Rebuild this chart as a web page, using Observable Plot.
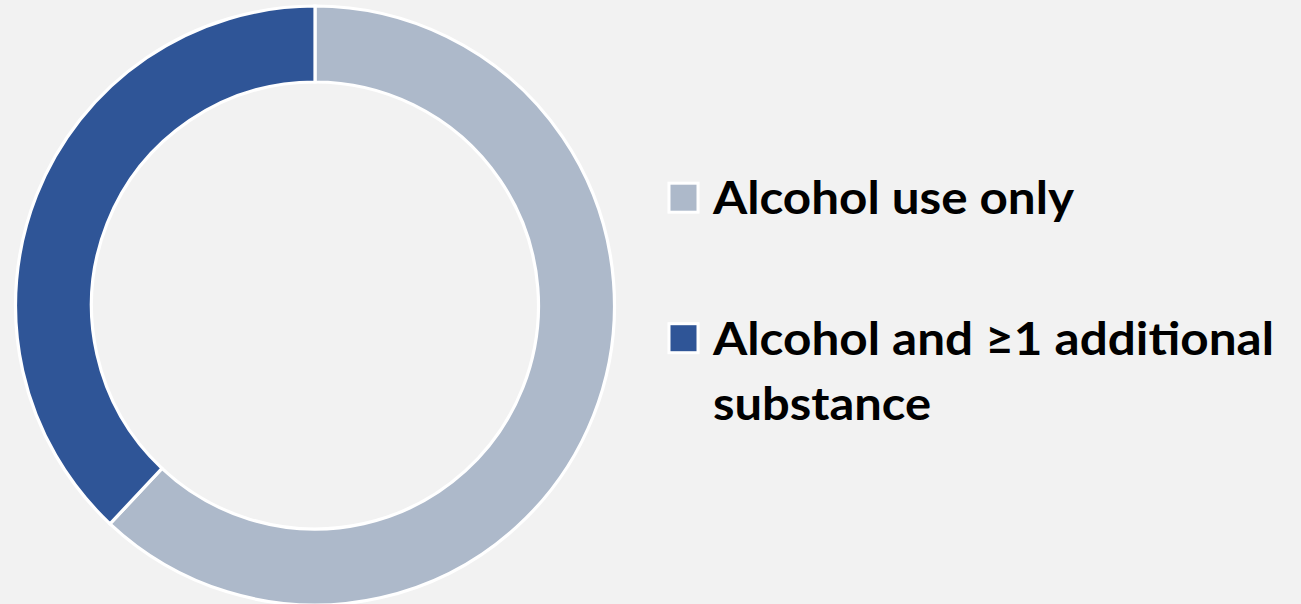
<!DOCTYPE html>
<html>
<head>
<meta charset="utf-8">
<script src="https://cdn.jsdelivr.net/npm/d3@7"></script>
<script src="https://cdn.jsdelivr.net/npm/@observablehq/plot@0.6"></script>
<style>
  html, body { margin: 0; padding: 0; background: #F2F2F2; }
  #chart svg { display: block; }
</style>
</head>
<body>
<div id="chart"></div>
<script>
// ---- data ----
const categories = ["Alcohol use only", "Alcohol and ≥1 additional substance"];
const values = [62, 38];
const colors = ["#ADB9CA", "#2F5597"];
const legendLines = [["Alcohol use only"], ["Alcohol and ≥1 additional", "substance"]];

// ---- layout ----
const W = 1301, H = 604;
const cx = 315, cy = 305.5, rOuter = 299.5, rInner = 223.5;
const legendX = 713, squareX = 669, squareSize = 29;
const legendBaselines = [[214], [354.5, 419.5]];
const legendLengths = [[361], [561, 218]];
const fontSize = 45.5;

const color = Plot.scale({color: {type: "ordinal", domain: categories, range: colors}});
const data = categories.map((c, i) => ({category: c, value: values[i]}));

function donutMark(index, scales, vals, dims) {
  const g = d3.create("svg:g");
  const pie = d3.pie().sort(null).value(d => d.value).startAngle(0).endAngle(2 * Math.PI);
  const arc = d3.arc().innerRadius(rInner).outerRadius(rOuter);
  g.append("g")
    .attr("transform", `translate(${cx},${cy})`)
    .selectAll("path")
    .data(pie(data))
    .join("path")
    .attr("d", arc)
    .attr("fill", d => color.apply(d.data.category))
    .attr("stroke", "white")
    .attr("stroke-width", 3.2)
    .attr("stroke-linejoin", "miter");
  return g.node();
}

function legendMark(index, scales, vals, dims) {
  const g = d3.create("svg:g").attr("text-anchor", "start");
  categories.forEach((c, i) => {
    const firstBase = legendBaselines[i][0];
    const capMid = firstBase - 0.7165 * fontSize / 2;
    g.append("rect")
      .attr("x", squareX)
      .attr("y", capMid - squareSize / 2)
      .attr("width", squareSize)
      .attr("height", squareSize)
      .attr("fill", color.apply(c))
      .attr("stroke", "white")
      .attr("stroke-width", 3);
    legendLines[i].forEach((line, j) => {
      g.append("text")
        .attr("x", legendX)
        .attr("y", legendBaselines[i][j])
        .attr("text-anchor", "start")
        .attr("font-family", "Lato, 'Open Sans', sans-serif")
        .attr("font-weight", 700)
        .attr("font-size", fontSize)
        .attr("fill", "#000")
        .attr("textLength", legendLengths[i][j])
        .attr("lengthAdjust", "spacingAndGlyphs")
        .text(line);
    });
  });
  return g.node();
}

const chart = Plot.plot({
  width: W,
  height: H,
  margin: 0,
  style: {background: "#F2F2F2", overflow: "visible"},
  x: {axis: null},
  y: {axis: null},
  marks: [donutMark, legendMark]
});
document.getElementById("chart").append(chart);
</script>
</body>
</html>
